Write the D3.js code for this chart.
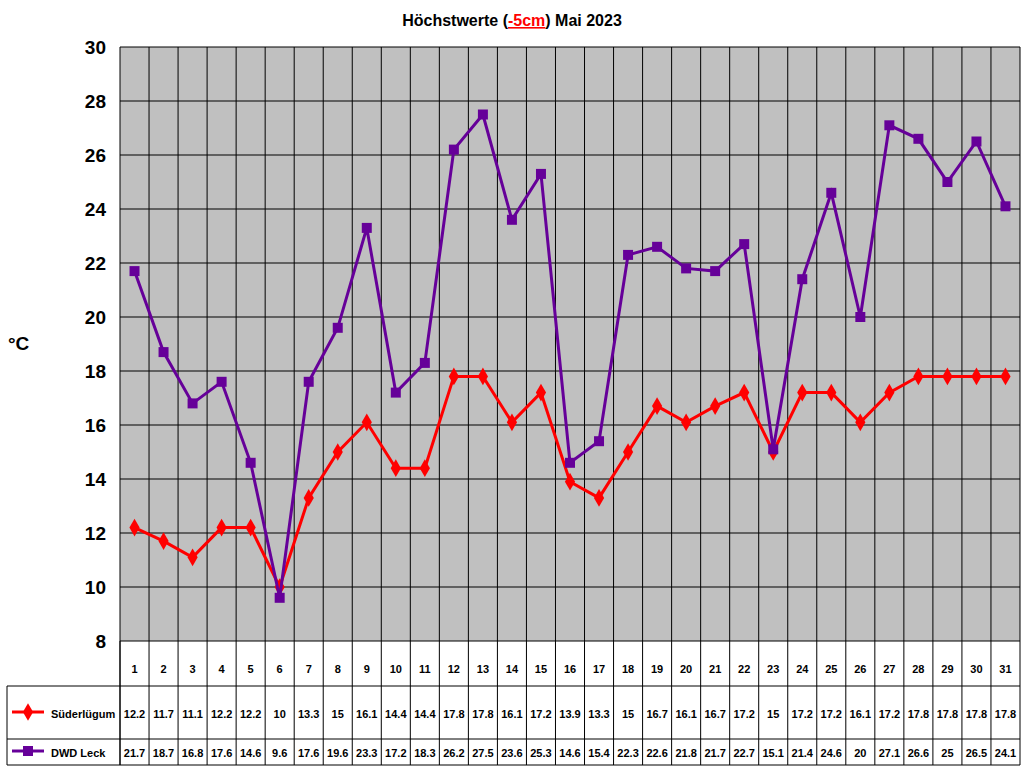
<!DOCTYPE html>
<html><head><meta charset="utf-8">
<script src="https://cdn.jsdelivr.net/npm/d3@7"></script>
<style>body{margin:0;background:#fff}text{font-family:"Liberation Sans",Arial,sans-serif}</style>
</head><body><svg id="c" width="1024" height="768"></svg>
<script>
const days = d3.range(1, 32);
const suederluegum = [12.2,11.7,11.1,12.2,12.2,10,13.3,15,16.1,14.4,14.4,17.8,17.8,16.1,17.2,13.9,13.3,15,16.7,16.1,16.7,17.2,15,17.2,17.2,16.1,17.2,17.8,17.8,17.8,17.8];
const dwdLeck = [21.7,18.7,16.8,17.6,14.6,9.6,17.6,19.6,23.3,17.2,18.3,26.2,27.5,23.6,25.3,14.6,15.4,22.3,22.6,21.8,21.7,22.7,15.1,21.4,24.6,20,27.1,26.6,25,26.5,24.1];
const yTicks = d3.range(8, 31, 2);
const series = [
  {name: "Süderlügum", values: suederluegum, color: "#ff0000", shape: d3.symbolDiamond, size: 90},
  {name: "DWD Leck", values: dwdLeck, color: "#660099", shape: d3.symbolSquare, size: 100}
];

const svg = d3.select("#c");
const L = 120, R = 1020, T = 47, B = 641;
const rowY = [641, 686, 739, 765];

const x = d3.scaleBand().domain(days).range([L, R]);
const y = d3.scaleLinear().domain([8, 30]).range([B, T]);

svg.append("rect").attr("x", L).attr("y", T).attr("width", R - L).attr("height", B - T).attr("fill", "#c0c0c0");

// grid
svg.append("g").selectAll("line").data(yTicks).join("line")
  .attr("x1", L).attr("x2", R).attr("y1", d => y(d)).attr("y2", d => y(d)).attr("stroke", "#000");
svg.append("g").selectAll("line").data(days.concat([32])).join("line")
  .attr("x1", d => d === 32 ? R : x(d)).attr("x2", d => d === 32 ? R : x(d))
  .attr("y1", T).attr("y2", rowY[3]).attr("stroke", "#000");

// axis labels
svg.append("g").selectAll("text").data(yTicks).join("text")
  .attr("x", 106).attr("y", d => y(d) + 7).attr("text-anchor", "end")
  .attr("font-size", 19).attr("font-weight", "bold").text(d => d);
svg.append("text").attr("x", 8).attr("y", 350).attr("font-size", 19).attr("font-weight", "bold").text("°C");

// table
svg.append("line").attr("x1", 7).attr("x2", R).attr("y1", rowY[1]).attr("y2", rowY[1]).attr("stroke", "#000");
svg.append("line").attr("x1", 7).attr("x2", R).attr("y1", rowY[2]).attr("y2", rowY[2]).attr("stroke", "#000");
svg.append("line").attr("x1", 7).attr("x2", R).attr("y1", rowY[3]).attr("y2", rowY[3]).attr("stroke", "#000");
svg.append("line").attr("x1", 7).attr("x2", 7).attr("y1", rowY[1]).attr("y2", rowY[3]).attr("stroke", "#000");
svg.append("line").attr("x1", L).attr("x2", L).attr("y1", B).attr("y2", rowY[3]).attr("stroke", "#000");

svg.append("g").selectAll("text").data(days).join("text")
  .attr("x", d => x(d) + x.bandwidth() / 2).attr("y", 673).attr("text-anchor", "middle")
  .attr("font-size", 11).attr("font-weight", "bold").text(d => d);

const rowText = [718, 757];
series.forEach((s, i) => {
  svg.append("g").selectAll("text").data(s.values).join("text")
    .attr("x", (d, j) => x(days[j]) + x.bandwidth() / 2).attr("y", rowText[i]).attr("text-anchor", "middle")
    .attr("font-size", 11).attr("font-weight", "bold").text(d => d);
  const ly = rowText[i] - 6;
  svg.append("line").attr("x1", 12).attr("x2", 44).attr("y1", ly).attr("y2", ly).attr("stroke", s.color).attr("stroke-width", 3);
  svg.append("path").attr("d", d3.symbol(s.shape, s.size)).attr("transform", `translate(28,${ly})`).attr("fill", s.color);
  svg.append("text").attr("x", 51).attr("y", rowText[i]).attr("font-size", 11).attr("font-weight", "bold").text(s.name);
});

// series lines (DWD first, Süderlügum on top? reference shows red markers beneath purple at day 6)
const line = d3.line().x((d, j) => x(days[j]) + x.bandwidth() / 2).y(d => y(d));
[series[0], series[1]].forEach(s => {
  svg.append("path").datum(s.values).attr("d", line).attr("fill", "none").attr("stroke", s.color).attr("stroke-width", 3);
  svg.append("g").selectAll("path").data(s.values).join("path")
    .attr("d", d3.symbol(s.shape, s.size))
    .attr("transform", (d, j) => `translate(${x(days[j]) + x.bandwidth() / 2},${y(d)})`)
    .attr("fill", s.color);
});

// title
const t = svg.append("text").attr("x", 512).attr("y", 26).attr("text-anchor", "middle").attr("font-size", 16).attr("font-weight", "bold");
t.append("tspan").text("Höchstwerte (");
t.append("tspan").attr("fill", "#ff0000").attr("text-decoration", "underline").text("-5cm");
t.append("tspan").text(") Mai 2023");
</script></body></html>
